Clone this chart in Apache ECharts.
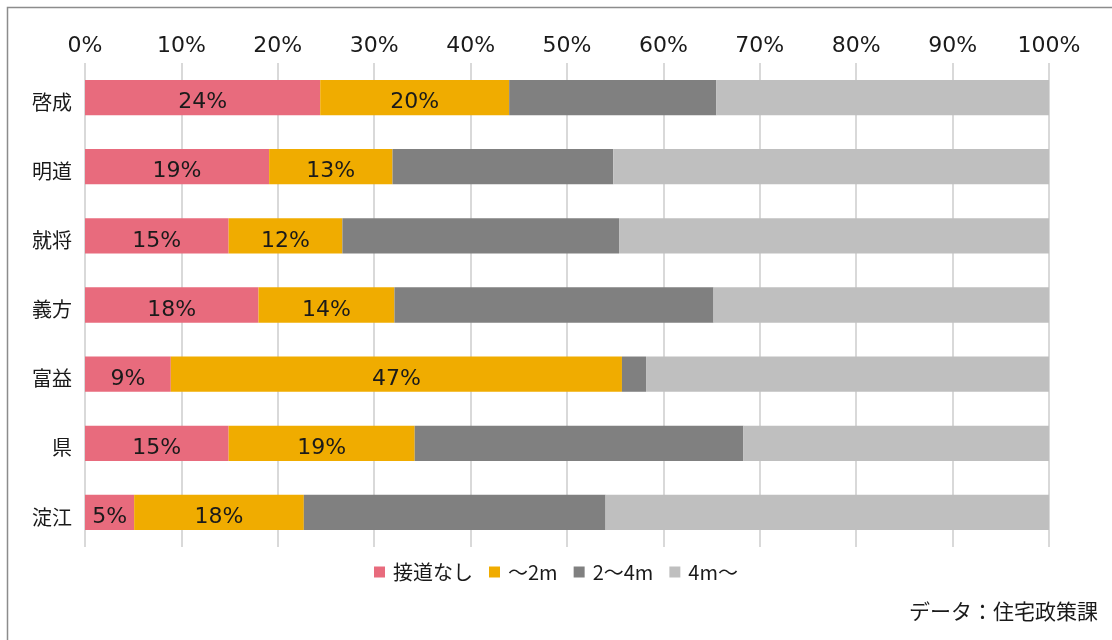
<!DOCTYPE html>
<html>
<head>
<meta charset="utf-8">
<script src="https://cdn.jsdelivr.net/npm/echarts@6/dist/echarts.min.js"></script>
<style>html,body{margin:0;padding:0;background:#fff;}#c{width:1112px;height:640px;}</style>
</head>
<body>
<div id="c"></div>
<script>
const categories = ['啓成', '明道', '就将', '義方', '富益', '県', '淀江'];
const seriesNames = ['接道なし', '～2m', '2～4m', '4m～'];
const noAccess = [24.4, 19.1, 14.9, 18.0, 8.9, 14.9, 5.1];
const upTo2m = [19.6, 12.8, 11.8, 14.1, 46.8, 19.3, 17.6];
const from2to4m = [21.5, 22.9, 28.7, 33.1, 2.5, 34.1, 31.3];
const over4m = [34.5, 45.2, 44.6, 34.8, 41.8, 31.7, 46.0];
const tickLabels = ['0%', '10%', '20%', '30%', '40%', '50%', '60%', '70%', '80%', '90%', '100%'];
const sourceNote = 'データ：住宅政策課';

const colors = ['#E86B7D', '#F0AC00', '#808080', '#BFBFBF'];
const numFont = 'DejaVu Sans';
const jpFont = 'Noto Sans CJK JP';
const allData = [noAccess, upTo2m, from2to4m, over4m];

const chart = echarts.init(document.getElementById('c'), null, {renderer: 'canvas'});
chart.setOption({
  animation: false,
  backgroundColor: '#fff',
  color: colors,
  grid: {left: 85, right: 63, top: 63, bottom: 93, containLabel: false},
  xAxis: {
    type: 'value', position: 'top', min: 0, max: 100, interval: 10,
    axisLine: {show: false}, axisTick: {show: false},
    splitLine: {show: true, lineStyle: {color: '#D9D9D9', width: 2}},
    axisLabel: {
      margin: 6, fontFamily: numFont, fontSize: 22, color: '#1a1a1a',
      formatter: function (v) { return tickLabels[Math.round(v / 10)]; }
    }
  },
  yAxis: {
    type: 'category', data: categories, inverse: true,
    axisLine: {show: false}, axisTick: {show: false},
    axisLabel: {
      margin: 13,
      formatter: function (v) { return '{c|' + v + '}'; },
      rich: {c: {fontFamily: jpFont, fontSize: 20, color: '#1a1a1a', padding: [9, 0, 0, 0]}}
    }
  },
  legend: {
    data: seriesNames, left: 'center', top: 557, icon: 'rect',
    itemWidth: 11, itemHeight: 11, itemGap: 16,
    textStyle: {fontFamily: jpFont, fontSize: 20, color: '#1a1a1a', padding: [0, 0, 0, 3]}
  },
  series: seriesNames.map(function (name, i) {
    return {
      name: name, type: 'bar', stack: 'total', barWidth: '51%',
      data: allData[i],
      label: {
        show: i < 2, position: 'inside', offset: [0, 5], fontFamily: numFont, fontSize: 22, color: '#1a1a1a',
        formatter: function (p) { return Math.round(p.value) + '%'; }
      }
    };
  }),
  graphic: [
    {type: 'rect', left: 5, top: 5, silent: true,
     shape: {x: 0, y: 0, width: 1200, height: 700},
     style: {fill: 'none', stroke: '#8c8c8c', lineWidth: 1.5}},
    {type: 'text', right: 14, top: 601,
     style: {text: sourceNote, fontFamily: jpFont, fontSize: 21, fill: '#1a1a1a'}}
  ]
});
</script>
</body>
</html>
